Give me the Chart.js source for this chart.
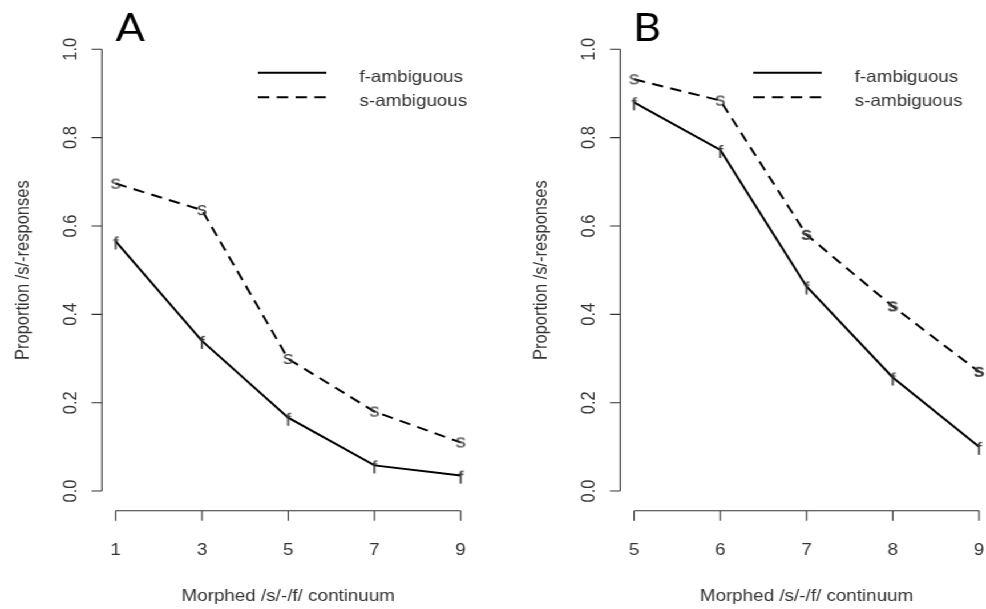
<!DOCTYPE html>
<html>
<head>
<meta charset="utf-8">
<script src="https://cdn.jsdelivr.net/npm/chart.js@4.4.1/dist/chart.umd.min.js"></script>
<style>
  html, body { margin: 0; padding: 0; background: #fff; overflow: hidden; }
  /* the original figure is stretched horizontally, so draw narrow and stretch */
  #stretch { position: absolute; left: 0; top: 0; width: 864px; height: 609px; transform: scaleX(1.1412); transform-origin: 0 0; }
  canvas { position: absolute; top: 0; }
  #chartA { left: 0; }
  #chartB { left: 432px; }
</style>
</head>
<body>
<div id="stretch">
  <canvas id="chartA" width="432" height="609"></canvas>
  <canvas id="chartB" width="450" height="609"></canvas>
</div>
<script>
const stepsA = [1, 3, 5, 7, 9];
const fAmbiguousA = [0.565, 0.34, 0.166, 0.058, 0.035];
const sAmbiguousA = [0.696, 0.636, 0.299, 0.18, 0.11];

const stepsB = [5, 6, 7, 8, 9];
const fAmbiguousB = [0.88, 0.772, 0.463, 0.257, 0.1];
const sAmbiguousB = [0.932, 0.884, 0.58, 0.418, 0.27];

const yTicks = [0, 0.2, 0.4, 0.6, 0.8, 1.0];
const yTickLabels = ['0.0', '0.2', '0.4', '0.6', '0.8', '1.0'];
const seriesNames = ['f-ambiguous', 's-ambiguous'];
const yTitle = 'Proportion /s/-responses';
const xTitle = 'Morphed /s/-/f/ continuum';

const textFont = '16.5px "Liberation Sans", Arial, sans-serif';
const dash = [10, 6.5];

// letters used as point markers, like pch="f" / pch="s" in R
function letterMarker(letter, bold) {
    const c = document.createElement('canvas');
    c.width = 14;
    c.height = 24;
    const ctx = c.getContext('2d');
    ctx.fillStyle = '#333';
    ctx.font = (bold ? 'bold ' : '') + '18px "Liberation Sans", Arial, sans-serif';
    ctx.textAlign = 'center';
    ctx.textBaseline = 'alphabetic';
    const base = letter === 's' ? 12 + 18 * 0.26 : 12 + 18 * 0.37 + 1;
    ctx.fillText(letter, 7, base);
    return c;
}

const fMark = letterMarker('f', false);
const sMark = letterMarker('s', false);
const sMarkBold = letterMarker('s', true);

const rAxes = {
    id: 'rAxes',
    afterDraw(chart, args, opts) {
        const ctx = chart.ctx;
        const area = chart.chartArea;
        const xs = chart.scales.x;
        const ys = chart.scales.y;
        const ticks = opts.xTicks;
        const xAxisY = area.bottom + 2;

        ctx.save();
        ctx.strokeStyle = '#333';
        ctx.fillStyle = '#333';
        ctx.lineWidth = 1.1;

        ctx.beginPath();
        ctx.moveTo(area.left, ys.getPixelForValue(0));
        ctx.lineTo(area.left, ys.getPixelForValue(1));
        yTicks.forEach(v => {
            const py = ys.getPixelForValue(v);
            ctx.moveTo(area.left, py);
            ctx.lineTo(area.left - 9, py);
        });
        ctx.moveTo(xs.getPixelForValue(ticks[0]), xAxisY);
        ctx.lineTo(xs.getPixelForValue(ticks[ticks.length - 1]), xAxisY);
        ticks.forEach(v => {
            const px = xs.getPixelForValue(v);
            ctx.moveTo(px, xAxisY);
            ctx.lineTo(px, xAxisY + 10);
        });
        ctx.stroke();

        ctx.font = textFont;
        ctx.textAlign = 'center';
        ctx.textBaseline = 'alphabetic';
        ticks.forEach(v => {
            ctx.fillText(String(v), xs.getPixelForValue(v), xAxisY + 44);
        });
        ctx.fillText(xTitle, (area.left + area.right) / 2, 600.5);

        ctx.textBaseline = 'middle';
        yTicks.forEach((v, i) => {
            ctx.save();
            ctx.translate(area.left - 28, ys.getPixelForValue(v));
            ctx.rotate(-Math.PI / 2);
            ctx.fillText(yTickLabels[i], 0, 1);
            ctx.restore();
        });
        ctx.save();
        ctx.translate(area.left - 69, (area.top + area.bottom) / 2);
        ctx.rotate(-Math.PI / 2);
        ctx.fillText(yTitle, 0, 0);
        ctx.restore();

        // legend
        const lx = opts.legendLeft;
        ctx.strokeStyle = '#000';
        ctx.lineWidth = 2;
        ctx.beginPath();
        ctx.moveTo(lx, 72.7);
        ctx.lineTo(lx + 60, 72.7);
        ctx.stroke();
        ctx.setLineDash(dash);
        ctx.beginPath();
        ctx.moveTo(lx, 97.3);
        ctx.lineTo(lx + 60, 97.3);
        ctx.stroke();
        ctx.setLineDash([]);
        ctx.textAlign = 'left';
        ctx.textBaseline = 'alphabetic';
        ctx.fillText(seriesNames[0], lx + 89, 81.5);
        ctx.fillText(seriesNames[1], lx + 89, 105.5);

        // panel letter
        ctx.fillStyle = '#000';
        ctx.font = '38px Lato, "Open Sans", sans-serif';
        ctx.textAlign = 'center';
        ctx.fillText(opts.letter, opts.letterX, 40.7);
        ctx.restore();
    }
};

function makePanel(canvasId, steps, fVals, sVals, sMarks, cfg) {
    const ctx = document.getElementById(canvasId).getContext('2d');
    return new Chart(ctx, {
        type: 'line',
        data: {
            datasets: [
                {
                    label: seriesNames[0],
                    data: steps.map((x, i) => ({ x: x, y: fVals[i] })),
                    borderColor: '#000',
                    borderWidth: 2,
                    pointStyle: fMark,
                    pointRadius: 6,
                    tension: 0,
                    fill: false
                },
                {
                    label: seriesNames[1],
                    data: steps.map((x, i) => ({ x: x, y: sVals[i] })),
                    borderColor: '#000',
                    borderWidth: 2,
                    borderDash: dash,
                    pointStyle: sMarks,
                    pointRadius: 6,
                    tension: 0,
                    fill: false
                }
            ]
        },
        options: {
            responsive: false,
            animation: false,
            events: [],
            layout: { padding: cfg.padding },
            scales: {
                x: { type: 'linear', min: cfg.xMin, max: cfg.xMax, display: false },
                y: { type: 'linear', min: -0.04, max: 1.04, display: false }
            },
            plugins: {
                legend: { display: false },
                tooltip: { enabled: false },
                rAxes: {
                    xTicks: steps,
                    legendLeft: cfg.legendLeft,
                    letter: cfg.letter,
                    letterX: cfg.letterX
                }
            }
        },
        plugins: [rAxes]
    });
}

makePanel('chartA', stepsA, fAmbiguousA, sAmbiguousA, sMark, {
    xMin: 0.68, xMax: 9.32,
    padding: { left: 89.3, right: 16.2, top: 31.6, bottom: 100.3 },
    legendLeft: 226, letter: 'A', letterX: 114
});

makePanel('chartB', stepsB, fAmbiguousB, sAmbiguousB, [sMark, sMark, sMarkBold, sMarkBold, sMarkBold], {
    xMin: 4.84, xMax: 9.16,
    padding: { left: 111.5, right: 12, top: 31.6, bottom: 100.3 },
    legendLeft: 228, letter: 'B', letterX: 135
});
</script>
</body>
</html>
